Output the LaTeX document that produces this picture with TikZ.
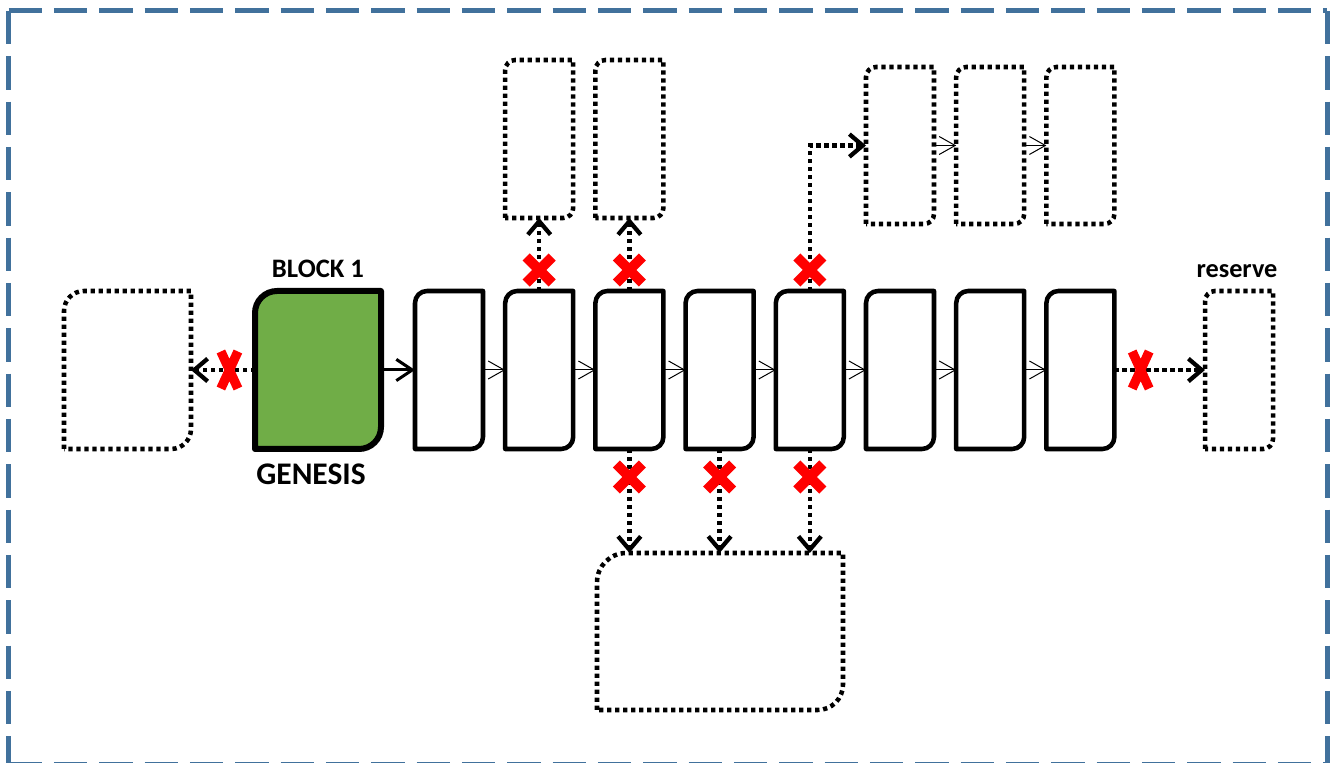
\documentclass[tikz,border=0pt]{standalone}
\usepackage{fontspec}
\setmainfont{Carlito}
\usetikzlibrary{arrows.meta,calc}
\definecolor{frameblue}{RGB}{65,113,156}
\definecolor{gengreen}{RGB}{112,173,71}
\definecolor{xred}{RGB}{255,0,0}

% box with rounded top-left (#3) and bottom-right (#4) corners around node #1
\newcommand\tlbrbox[4]{%
  \draw[#2] (#1.south west) -- ([yshift=-#3]#1.north west)
    arc[start angle=180, end angle=90, radius=#3] -- (#1.north east)
    -- ([yshift=#4]#1.south east)
    arc[start angle=0, end angle=-90, radius=#4] -- cycle;}

\begin{document}
\begin{tikzpicture}[x=0.75pt,y=0.75pt,
  slot/.style={inner sep=0pt, outer sep=0pt, minimum width=51pt, minimum height=118.5pt},
  solidblk/.style={line width=3.4pt, line join=round},
  genblk/.style={line width=4.5pt, fill=gengreen, line join=round},
  dotblk/.style={line width=3.4pt, dash pattern=on 3.2pt off 2.8pt},
  frame/.style={frameblue, line width=3.75pt, dash pattern=on 25pt off 9pt},
  thinarrow/.style={line width=0.75pt, -{Straight Barb[length=12pt,width=13.5pt]}},
  boldarrow/.style={line width=2.25pt, -{Straight Barb[length=12pt,width=16pt]}},
  dotarrow/.style={line width=3.2pt, dash pattern=on 3.2pt off 2.8pt,
    -{Straight Barb[length=10pt,width=17pt]}},
  lbl/.style={inner sep=0pt, anchor=base, font=\bfseries\fontsize{20}{23}\selectfont},
  xcross/.pic={\draw[xred, line width=7.5pt] (-13,-13) -- (13,13) (-13,13) -- (13,-13);},
  xtall/.pic={\draw[xred, line width=7pt] (-8.5,-18.5) -- (8.5,18.5) (-8.5,18.5) -- (8.5,-18.5);}
]
\useasboundingbox (0,0) rectangle (1330,763);

% outer dashed frame
\draw[frame] (8.5,752) -- (1327,752);
\draw[frame] (8.5,752) -- (8.5,-2);
\draw[frame] (1327,752) -- (1327,-2);
\draw[frame] (8.5,-2) -- (1327,-2);

% main chain
\node[slot, minimum width=95.25pt] (L0) at (127.5,393) {};
\node[slot, minimum width=94.5pt] (G) at (318,393) {};
\foreach \i/\x in {1/449,2/539.2,3/629.4,4/719.6,5/809.8,6/900,7/990.2,8/1080.4}
  \node[slot] (b\i) at (\x,393) {};
\node[slot] (R) at (1239,393) {};

% side branches
\node[slot] (A) at (539.2,624) {};
\node[slot] (B) at (629.4,624) {};
\node[slot, minimum height=117.75pt] (C) at (900,617.5) {};
\node[slot, minimum height=117.75pt] (D) at (990.2,617.5) {};
\node[slot, minimum height=117.75pt] (E) at (1080.4,617.5) {};
\node[slot, minimum width=184.5pt, minimum height=117.75pt] (P) at (720,131.5) {};

% outlines
\tlbrbox{L0}{dotblk}{15pt}{15pt}
\tlbrbox{G}{genblk}{16.5pt}{16.5pt}
\foreach \i in {1,...,8} {\tlbrbox{b\i}{solidblk}{9pt}{9pt}}
\tlbrbox{R}{dotblk}{7.5pt}{7.5pt}
\foreach \n in {A,B,C,D,E} {\tlbrbox{\n}{dotblk}{7.5pt}{7.5pt}}
\tlbrbox{P}{dotblk}{22pt}{19pt}

% labels
\node[lbl] (blk1) at (318,485) {BLOCK 1};
\node[lbl, font=\bfseries\fontsize{23.6}{27}\selectfont] (gen) at (311,278) {GENESIS};
\node[lbl, font=\bfseries\fontsize{19.7}{23}\selectfont] (res) at (1237,485) {reserve};

% links
\draw[boldarrow] (G.east) -- (b1.west);
\foreach \i [evaluate=\i as \j using int(\i+1)] in {1,...,7}
  \draw[thinarrow] (b\i.east) -- (b\j.west);
\draw[thinarrow] (C.east) -- (D.west);
\draw[thinarrow] (D.east) -- (E.west);

\draw[dotarrow] (G.west) -- (L0.east);
\draw[dotarrow] (b8.east) -- (R.west);
\draw[dotarrow] (b2.north) -- (A.south);
\draw[dotarrow] (b3.north) -- (B.south);
\draw[dotarrow] (b5.north) |- (C.west);
\draw[dotarrow] (b3.south) -- (b3.south |- P.north);
\draw[dotarrow] (b4.south) -- (b4.south |- P.north);
\draw[dotarrow] (b5.south) -- (b5.south |- P.north);

% blocked links
\pic at ($(G.west)!0.4!(L0.east)$) {xtall};
\pic at ($(b8.east)!0.29!(R.west)$) {xtall};
\foreach \n in {b2,b3,b5} \pic at ($(\n.north)+(0,21)$) {xcross};
\foreach \n in {b3,b4,b5} \pic at ($(\n.south)+(0,-28)$) {xcross};
\end{tikzpicture}
\end{document}
